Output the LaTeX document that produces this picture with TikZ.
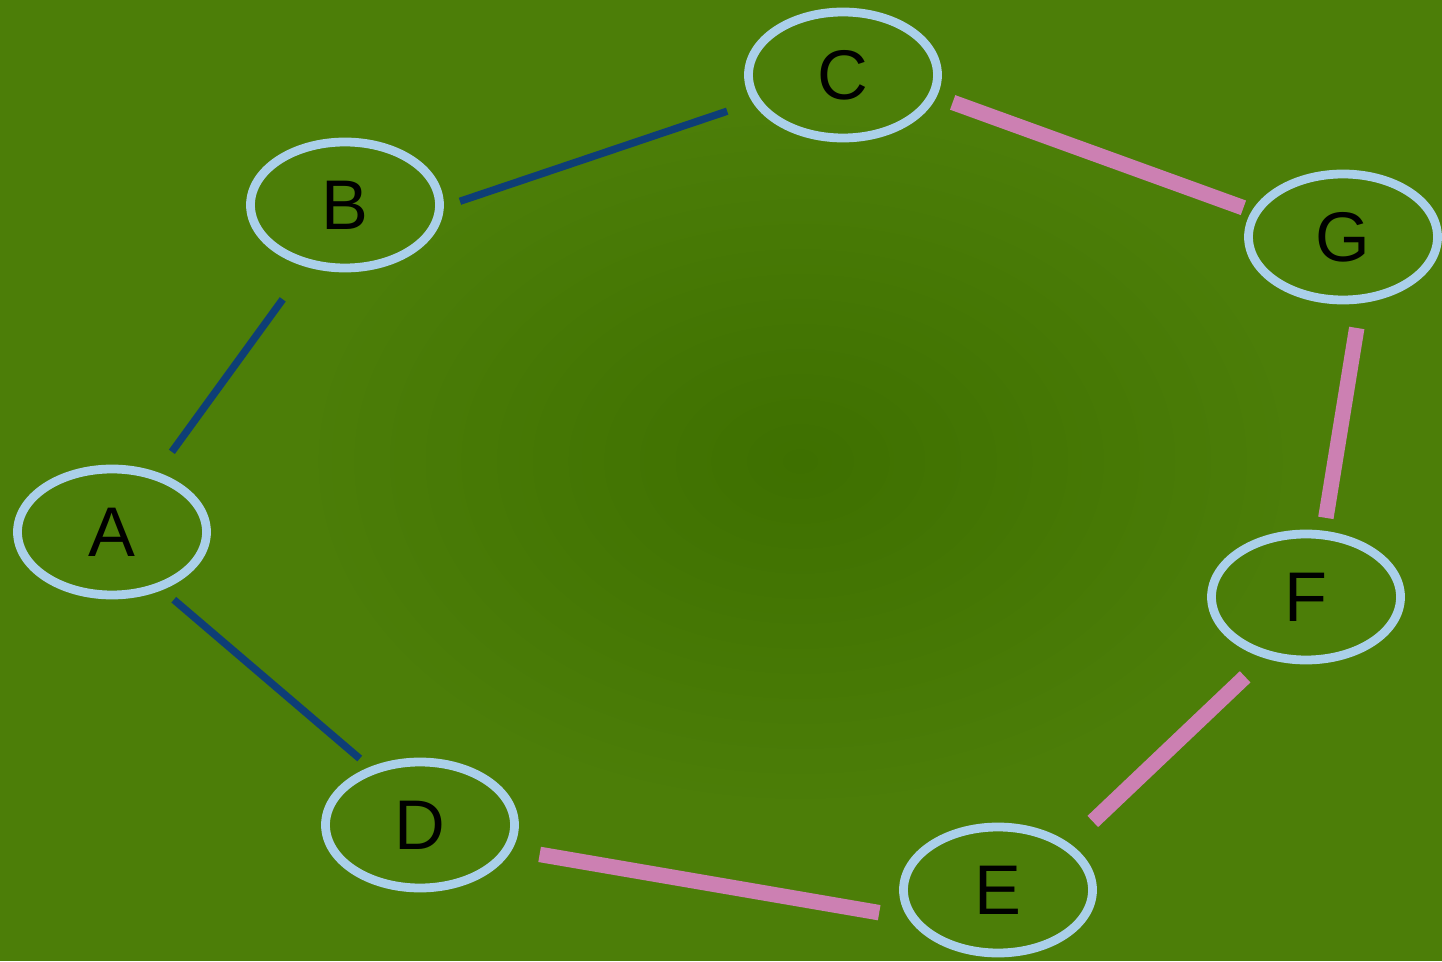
\documentclass[tikz,border=0pt]{standalone}
\usepackage{fontspec}
\setmainfont{Liberation Sans}
\usetikzlibrary{shapes.geometric}

\definecolor{bggreen}{RGB}{76,126,8}
\definecolor{darkgreen}{RGB}{62,112,0}
\definecolor{ringblue}{RGB}{170,208,234}
\definecolor{navyline}{RGB}{14,62,118}
\definecolor{pinkline}{RGB}{204,128,178}

\tikzset{
	vertex/.style={ellipse, draw=ringblue, line width=5pt, minimum width=3.78cm,
		minimum height=2.52cm, inner sep=0pt, font=\fontsize{40}{48}\selectfont},
	thinlink/.style={draw=navyline, line width=4.2pt},
	thicklink/.style={draw=pinkline, line width=8.8pt}
}

\begin{document}
\begin{tikzpicture}
			\fill[bggreen] (0,0) rectangle (28.84,19.22);
			\shade[inner color=darkgreen, outer color=bggreen] (16,10) ellipse (10cm and 7cm);
			\useasboundingbox (0,0) rectangle (28.84,19.22);

			% vertices
			\node[vertex] (A) at (2.24,8.58) {A};
			\node[vertex] (B) at (6.90,15.12) {B};
			\node[vertex] (C) at (16.86,17.72) {C};
			\node[vertex] (G) at (26.86,14.48) {G};
			\node[vertex] (F) at (26.12,7.28) {F};
			\node[vertex] (D) at (8.40,2.72) {D};
			\node[vertex] (E) at (19.96,1.42) {E};

			% edges
			\draw[thinlink, shorten <=0.5cm, shorten >=0.8cm] (A.53) -- (B.238);
			\draw[thinlink, shorten <=0.34cm, shorten >=0.54cm] (B.-1) -- (C.197);
			\draw[thinlink, shorten <=0.3cm, shorten >=0.26cm] (A.-49) -- (D.131);
			\draw[thicklink, shorten <=0.34cm, shorten >=0.18cm] (C.-13) -- (G.164);
			\draw[thicklink, shorten <=0.5cm, shorten >=0.26cm] (G.-75) -- (F.75);
			\draw[thicklink, shorten <=0.54cm, shorten >=0.64cm] (F.236) -- (E.33);
			\draw[thicklink, shorten <=0.58cm, shorten >=0.56cm] (E.197) -- (D.-15);
		\end{tikzpicture}
\end{document}
